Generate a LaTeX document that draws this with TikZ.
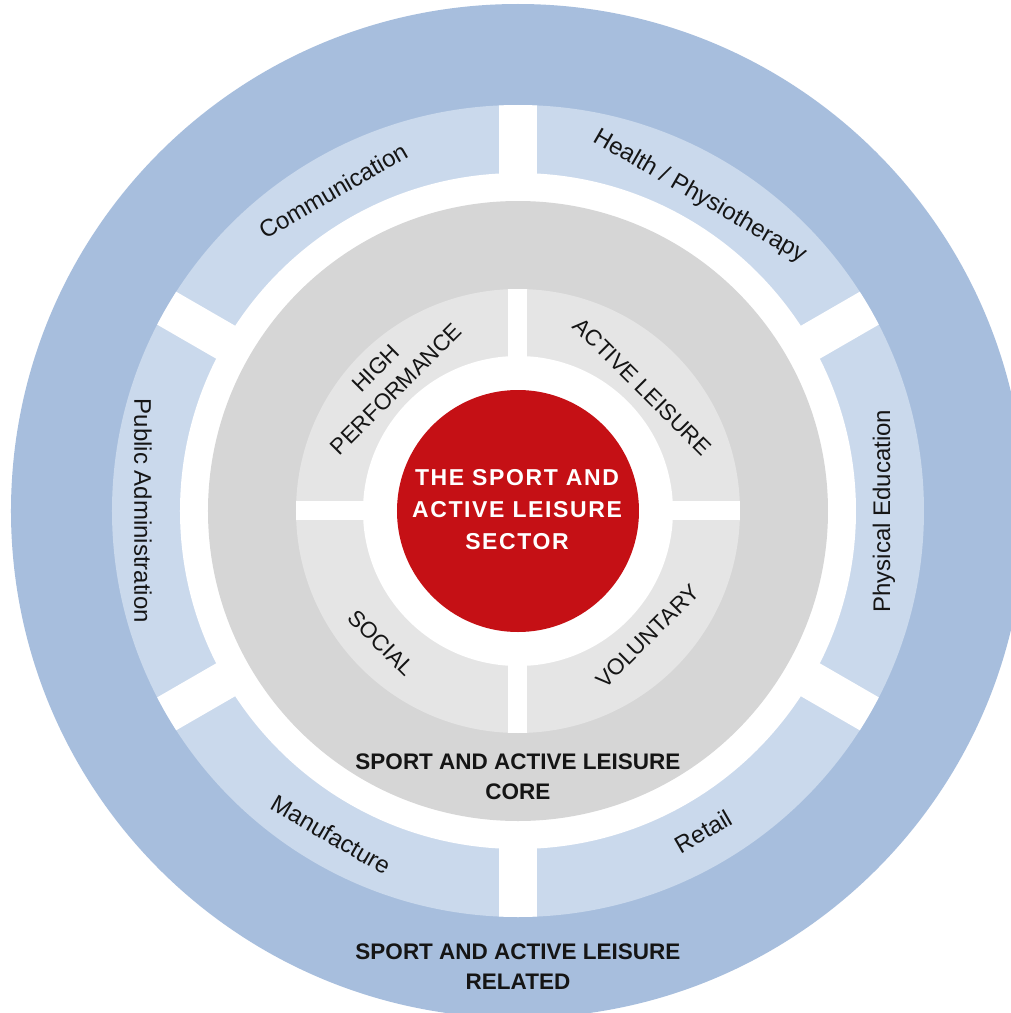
\documentclass[tikz,border=0pt]{standalone}
\usepackage{fontspec}
\setmainfont{Liberation Sans}
\newfontfamily\sectorfont[LetterSpace=7]{Liberation Sans}
\definecolor{outerblue}{HTML}{A7BEDD}
\definecolor{segblue}{HTML}{CAD9EC}
\definecolor{coregray}{HTML}{D6D6D6}
\definecolor{quadgray}{HTML}{E5E5E5}
\definecolor{sectorred}{HTML}{C51015}
\definecolor{textblack}{HTML}{151515}
\begin{document}
\begin{tikzpicture}[x=1pt,y=1pt,
  seglabel/.style={font=\fontsize{24}{28}\selectfont, text=textblack, inner sep=0pt},
  quadlabel/.style={font=\fontsize{22.5}{29}\selectfont, text=textblack, align=center, inner sep=0pt},
  corelabel/.style={font=\bfseries\fontsize{22.5}{30}\selectfont, text=textblack, align=center, inner sep=0pt},
  sectorlabel/.style={font=\sectorfont\bfseries\fontsize{23}{32}\selectfont, text=white, align=center, inner sep=0pt}]
\useasboundingbox (-518,-502) rectangle (493,511);
\clip (-518,-502) rectangle (493,511);
\fill[white] (-518,-502) rectangle (493,511);
\coordinate (c) at (0,0);
% outer related ring
\fill[outerblue] (c) circle[radius=507pt];
\fill[segblue] (c) circle[radius=406pt];
\fill[white] (c) circle[radius=338pt];
\begin{scope}
  \clip (c) circle[radius=406pt];
  \foreach \a in {30,90,...,330} \draw[white, line width=38pt] (c) -- (\a:430);
\end{scope}
% core ring
\fill[coregray] (c) circle[radius=310pt];
\fill[quadgray] (c) circle[radius=222pt];
\begin{scope}
  \clip (c) circle[radius=222pt];
  \draw[white, line width=19pt] (-240,1) -- (240,1);
  \draw[white, line width=19pt] (0,-240) -- (0,240);
\end{scope}
\fill[white] (c) circle[radius=155pt];
\fill[sectorred] (c) circle[radius=121pt];
% centre
\node[sectorlabel] (sector) at (-1,1) {THE SPORT AND\\ACTIVE LEISURE\\SECTOR};
% quadrants
\node[quadlabel, rotate=45] (high) at (135:187) {HIGH\\PERFORMANCE};
\node[quadlabel, rotate=-45] (active) at (45:176) {ACTIVE LEISURE};
\node[quadlabel, rotate=-45] (social) at (224:190) {SOCIAL};
\node[quadlabel, rotate=45] (volunt) at (-44:180) {VOLUNTARY};
% related segments
\node[seglabel, rotate=30] (comm) at (120:370) {Communication};
\node[seglabel, rotate=-30] (health) at (60:363) {Health / Physiotherapy};
\node[seglabel, rotate=90] (phys) at (0:366) {Physical Education};
\node[seglabel, rotate=30] (retail) at (-60:370) {Retail};
\node[seglabel, rotate=-30] (manuf) at (240:374) {Manufacture};
\node[seglabel, rotate=-90] (public) at (180:375) {Public Administration};
% ring titles
\node[corelabel] (core) at (0,-266) {SPORT AND ACTIVE LEISURE\\CORE};
\node[corelabel] (related) at (0,-456) {SPORT AND ACTIVE LEISURE\\RELATED};
\end{tikzpicture}
\end{document}
